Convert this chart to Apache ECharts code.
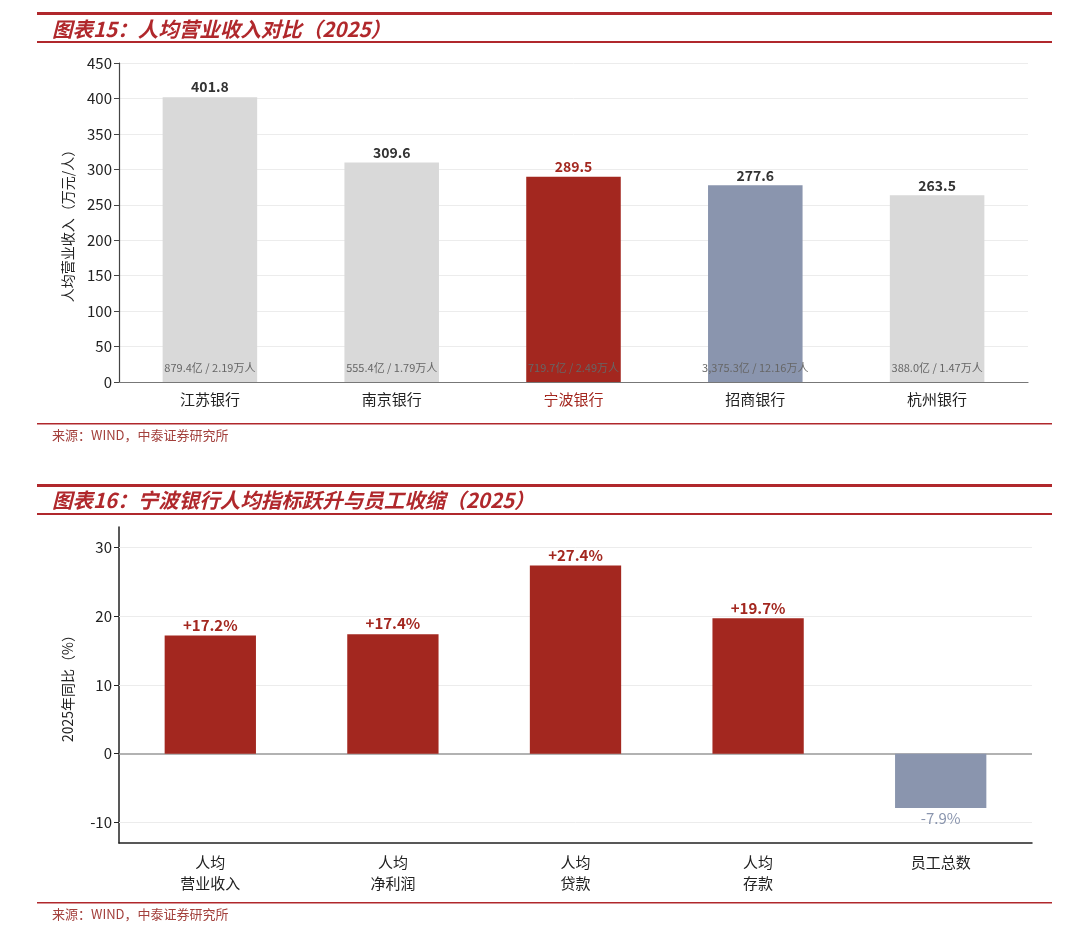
<!DOCTYPE html>
<html>
<head>
<meta charset="utf-8">
<script src="https://cdn.jsdelivr.net/npm/echarts@6/dist/echarts.min.js"></script>
<style>
  html, body { margin: 0; padding: 0; background: #fff; }
  #main { width: 1080px; height: 934px; }
</style>
</head>
<body>
<div id="main"></div>
<script>
// chart 15: per-capita revenue
const banks = ['江苏银行', '南京银行', '宁波银行', '招商银行', '杭州银行'];
const perCapitaRevenue = [401.8, 309.6, 289.5, 277.6, 263.5];
const revenueYi = [879.4, 555.4, 719.7, 3375.3, 388.0];
const staffWan = [2.19, 1.79, 2.49, 12.16, 1.47];

// chart 16: yoy change
const metrics = ['人均\n营业收入', '人均\n净利润', '人均\n贷款', '人均\n存款', '员工总数'];
const yoyChange = [17.2, 17.4, 27.4, 19.7, -7.9];
const yoyTicks = [-10, 0, 10, 20, 30];

const RED = '#a3271f';
const GREY = '#d9d9d9';
const BLUE = '#8a95ae';
const LINE_RED = '#b0282c';
const FONT = 'Noto Sans CJK SC';

const bankColor = (i) => (i === 2 ? RED : i === 3 ? BLUE : GREY);

const fmtYi = (v) =>
  v.toLocaleString('en-US', { minimumFractionDigits: 1, maximumFractionDigits: 1 });

const chart = echarts.init(document.getElementById('main'));

const rule = (y, h) => ({
  type: 'rect',
  shape: { x: 37, y: y, width: 1015, height: h },
  style: { fill: LINE_RED },
  silent: true
});
const heading = (y, text) => ({
  type: 'text',
  x: 52, y: y,
  style: {
    text: text, fill: LINE_RED, font: 'italic bold 20.5px "' + FONT + '"',
    verticalAlign: 'middle'
  },
  silent: true
});
const source = (y) => ({
  type: 'text',
  x: 52, y: y,
  style: {
    text: '来源：WIND，中泰证券研究所', fill: '#a3403c',
    font: '13px "' + FONT + '"', verticalAlign: 'middle'
  },
  silent: true
});

const option = {
  animation: false,
  backgroundColor: '#fff',
  textStyle: { fontFamily: FONT },
  graphic: [
    rule(12, 3), heading(29, '图表15：人均营业收入对比（2025）'), rule(41, 2),
    rule(423, 1.5), source(435),
    rule(484, 3), heading(500, '图表16：宁波银行人均指标跃升与员工收缩（2025）'), rule(513, 2),
    rule(902, 1.5), source(914)
  ],
  grid: [
    { left: 119, right: 52, top: 63, height: 319 },
    { left: 119, right: 48, top: 527, height: 316 }
  ],
  xAxis: [
    {
      type: 'category', gridIndex: 0, data: banks,
      axisLine: { lineStyle: { color: '#777', width: 1.2 } },
      axisTick: { alignWithLabel: true, length: 5, lineStyle: { color: '#555' } },
      axisLabel: {
        fontSize: 15, margin: 10,
        color: (v, i) => (i === 2 ? RED : '#222')
      }
    },
    {
      type: 'category', gridIndex: 1, data: metrics,
      axisLine: { onZero: false, lineStyle: { color: '#222', width: 1.5 } },
      axisTick: { alignWithLabel: true, length: 6, lineStyle: { color: '#222' } },
      axisLabel: { fontSize: 15, color: '#222', lineHeight: 21, margin: 9 }
    }
  ],
  yAxis: [
    {
      type: 'value', gridIndex: 0, min: 0, max: 450, interval: 50,
      name: '人均营业收入（万元/人）', nameLocation: 'middle', nameGap: 44,
      nameTextStyle: { fontSize: 14, color: '#222' },
      axisLine: { show: true, lineStyle: { color: '#444', width: 1.2 } },
      axisTick: { show: true, length: 5, lineStyle: { color: '#444' } },
      axisLabel: { fontSize: 15, color: '#222', margin: 7 },
      splitLine: { lineStyle: { color: '#ececec', width: 1 } }
    },
    {
      type: 'value', gridIndex: 1, min: -13, max: 33,
      name: '2025年同比（%）', nameLocation: 'middle', nameGap: 44,
      nameTextStyle: { fontSize: 14, color: '#222' },
      axisLine: { show: true, lineStyle: { color: '#222', width: 1.5 } },
      axisTick: { show: true, length: 5, customValues: yoyTicks, lineStyle: { color: '#222' } },
      axisLabel: { fontSize: 15, color: '#222', margin: 7, customValues: yoyTicks },
      splitLine: { show: false }
    }
  ],
  series: [
    {
      type: 'bar', xAxisIndex: 0, yAxisIndex: 0,
      barWidth: '52%', barGap: '-100%',
      data: perCapitaRevenue.map((v, i) => ({
        value: v,
        itemStyle: { color: bankColor(i) },
        label: { color: i === 2 ? RED : '#333' }
      })),
      label: {
        show: true, position: 'top', distance: 3,
        fontSize: 14, fontWeight: 'bold',
        formatter: (p) => p.value.toFixed(1)
      }
    },
    {
      type: 'bar', xAxisIndex: 0, yAxisIndex: 0,
      barWidth: '52%', barGap: '-100%', silent: true,
      data: perCapitaRevenue,
      itemStyle: { color: 'rgba(0,0,0,0)' },
      label: {
        show: true, position: 'insideBottom', distance: 9,
        fontSize: 11, color: '#666',
        formatter: (p) => fmtYi(revenueYi[p.dataIndex]) + '亿 / ' + staffWan[p.dataIndex].toFixed(2) + '万人'
      }
    },
    {
      type: 'bar', xAxisIndex: 1, yAxisIndex: 1,
      barWidth: '50%',
      data: yoyChange.map((v) => ({
        value: v,
        itemStyle: { color: v >= 0 ? RED : BLUE },
        label: v >= 0
          ? { position: 'top', color: RED, fontWeight: 'bold' }
          : { position: 'bottom', color: BLUE, fontWeight: 'normal' }
      })),
      label: {
        show: true, distance: 3, fontSize: 15,
        formatter: (p) => (p.value > 0 ? '+' : '') + p.value.toFixed(1) + '%'
      },
      markLine: {
        silent: true, symbol: 'none', z: 1,
        label: { show: false },
        data: yoyTicks.map((t) => ({
          yAxis: t,
          lineStyle: t === 0
            ? { color: '#999', width: 1.5, type: 'solid' }
            : { color: '#ececec', width: 1, type: 'solid' }
        }))
      }
    }
  ]
};

chart.setOption(option);
window.addEventListener('resize', () => chart.resize());
</script>
</body>
</html>
